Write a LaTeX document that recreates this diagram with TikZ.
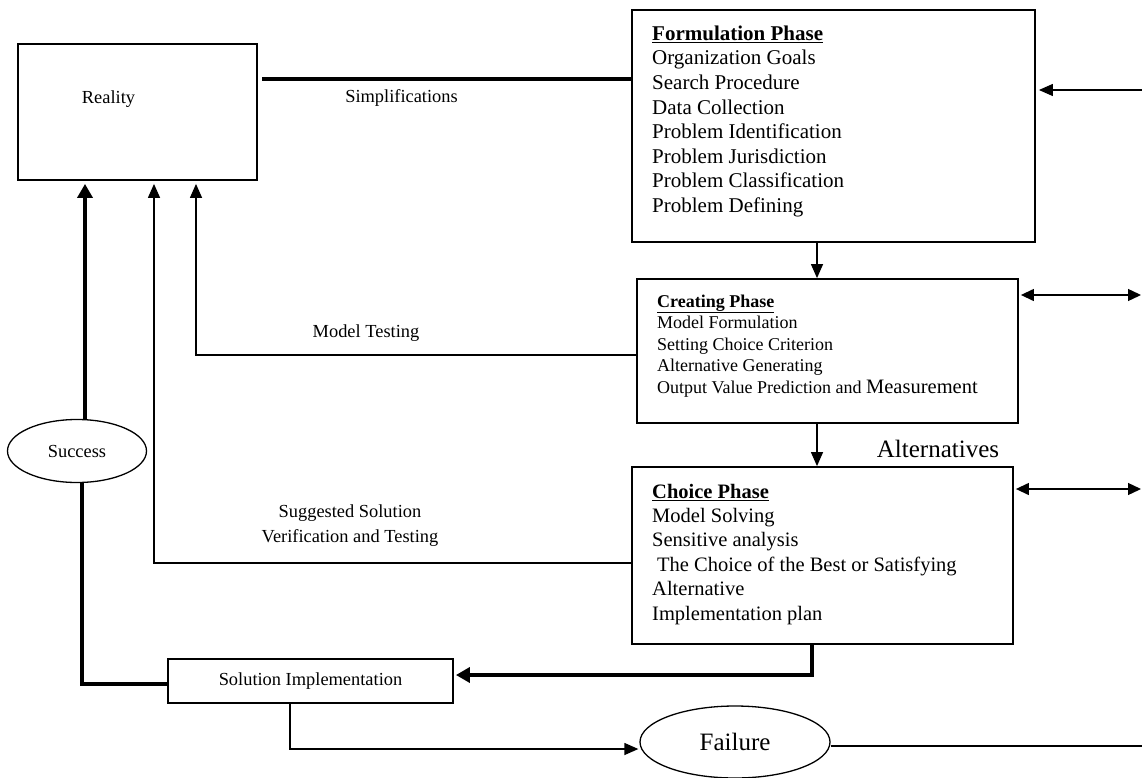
\documentclass[tikz,border=0pt]{standalone}
\usepackage{fontspec}
\setmainfont{Liberation Serif}
\usetikzlibrary{arrows.meta,shapes.geometric}
\newcommand\myfs[2]{\fontsize{#1}{#2}\selectfont}
\begin{document}
\begin{tikzpicture}[x=1pt,y=-1pt,
  box/.style={draw,rectangle,line width=1.8pt,inner sep=0pt},
  oval/.style={draw,ellipse,line width=1.3pt,inner sep=0pt},
  thinln/.style={line width=1.3pt},
  arr/.style={thinln,-{Triangle[length=14pt,width=12pt]}},
  dbl/.style={thinln,{Triangle[length=13pt,width=12pt]}-{Triangle[length=13pt,width=12pt]}},
  heavy/.style={line width=4.5pt},
  heavyarr/.style={heavy,-{Triangle[length=14pt,width=15pt]}},
  lbl/.style={inner sep=0pt,font=\myfs{18.4}{25}},
  big/.style={inner sep=0pt,font=\myfs{25}{30}},
  listtxt/.style={inner sep=0pt,align=left,anchor=north west}
]
\useasboundingbox (0,0) rectangle (1142,778);

% boxes
\node[box,minimum width=239pt,minimum height=136pt] (reality) at (137.5,112) {};
\node[box,minimum width=403pt,minimum height=232pt] (form) at (833.5,126) {};
\node[box,minimum width=381pt,minimum height=144pt] (create) at (827.5,351) {};
\node[box,minimum width=381pt,minimum height=177pt] (choice) at (822.5,555.5) {};
\node[box,minimum width=285pt,minimum height=44pt,font=\myfs{18.4}{22}] (impl) at (310.5,681) {Solution Implementation};
\node[oval,minimum width=139pt,minimum height=63pt,font=\myfs{18.4}{22}] (success) at (77,451) {Success};
\node[oval,minimum width=190pt,minimum height=72pt,font=\myfs{25}{30}] (failure) at (735,742) {Failure};

% box contents
\node[listtxt,font=\myfs{21}{24.6}] (formtxt) at (652,22.8) {\strut\underline{\textbf{Formulation Phase}}\\
Organization Goals\\ Search Procedure\\ Data Collection\\ Problem Identification\\
Problem Jurisdiction\\ Problem Classification\\ Problem Defining};
\node[listtxt,font=\myfs{18}{21.5}] (createtxt) at (657,291.95) {\strut\underline{\textbf{Creating Phase}}\\
Model Formulation\\ Setting Choice Criterion\\ Alternative Generating\\
Output Value Prediction and {\fontsize{20.5}{21.5}\selectfont Measurement}};
\node[listtxt,font=\myfs{20.5}{24.4}] (choicetxt) at (652,480.9) {\strut\underline{\textbf{Choice Phase}}\\
Model Solving\\ Sensitive analysis\\ \hspace*{5pt}The Choice of the Best or Satisfying\\
Alternative\\ Implementation plan};

% labels
\node[lbl,anchor=base] (treality) at (108.5,104) {Reality};
\node[lbl,anchor=base] (tsimp) at (401.5,103) {Simplifications};
\node[lbl,anchor=base] (tmodel) at (366,337) {Model Testing};
\node[lbl,anchor=base] (tsugg) at (350,517) {Suggested Solution};
\node[lbl,anchor=base] (tverif) at (350,542) {Verification and Testing};
\node[big,anchor=base] (talt) at (938,457) {Alternatives};

% coordinates
\coordinate (s0) at (262,79);
\coordinate (r1) at (1142,90);
\coordinate (fx) at (817,0);
\coordinate (r2) at (1141,295);
\coordinate (r3) at (1141,489);
\coordinate (mt) at (196,355);
\coordinate (sv) at (154,563);
\coordinate (cx) at (812,675);
\coordinate (sx) at (82,684);
\coordinate (ux) at (85,0);
\coordinate (ix) at (290,749);
\coordinate (r4) at (1142,746);

% connectors
\draw[heavy] (s0) -- (form.west |- s0);
\draw[arr,shorten >=3pt] (r1) -- (form.east |- r1);
\draw[arr] (form.south -| fx) -- (create.north -| fx);
\draw[arr] (create.south -| fx) -- (choice.north -| fx);
\draw[dbl] ([xshift=2pt]create.east |- r2) -- (r2);
\draw[dbl] ([xshift=2pt]choice.east |- r3) -- (r3);
\draw[arr] (create.west |- mt) -| ([yshift=-3pt]reality.south -| mt);
\draw[arr] (choice.west |- sv) -| ([yshift=-3pt]reality.south -| sv);
\draw[heavyarr] (choice.south -| cx) |- ([xshift=2pt]impl.east |- cx);
\draw[heavy] (impl.west |- sx) -| (success.south -| sx);
\draw[heavyarr] (success.north -| ux) -- ([yshift=-3pt]reality.south -| ux);
\draw[arr,shorten >=1pt] (impl.south -| ix) |- (failure.west |- ix);
\draw[thinln] (failure.east |- r4) -- (r4);
\end{tikzpicture}
\end{document}
